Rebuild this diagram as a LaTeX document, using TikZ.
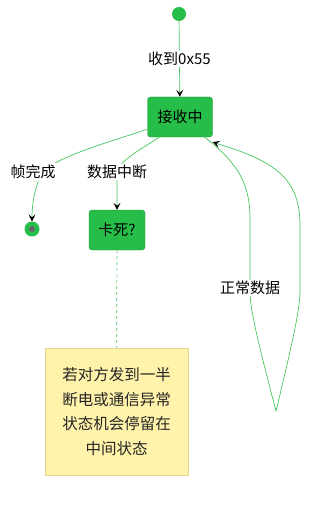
\documentclass[tikz,border=0pt]{standalone}
\usepackage{fontspec}
\setmainfont{Noto Sans CJK SC}
\usetikzlibrary{arrows.meta}
\definecolor{stgreen}{RGB}{38,189,72}
\definecolor{stborder}{RGB}{42,150,62}
\definecolor{lnkgreen}{RGB}{70,198,92}
\definecolor{notefill}{RGB}{255,242,170}
\definecolor{noteline}{RGB}{228,214,140}
\begin{document}
\begin{tikzpicture}[x=1pt, y=-1pt,
    snode/.style={rectangle, rounded corners=3pt, draw=stborder, fill=stgreen, minimum height=40pt, font=\fontsize{15}{17}\selectfont},
    edge/.style={draw=lnkgreen, line width=0.7pt, -{Stealth[black, length=7pt, width=7pt, inset=3pt]}},
    lbl/.style={fill=white, inner sep=1.5pt, font=\fontsize{15}{17}\selectfont},
]
\useasboundingbox (0,0) rectangle (310,508);
\node[circle, fill=stgreen, minimum size=14pt, inner sep=0pt] (start) at (179,14) {};
\node[snode, minimum width=65pt] (recv) at (180,117) {接收中};
\node[snode, minimum width=56pt] (stuck) at (117,230) {卡死?};
\node[circle, fill=stgreen, minimum size=15pt, inner sep=0pt] (done) at (32,229) {};
\node[circle, fill=black!60, minimum size=6pt, inner sep=0pt] at (done) {};
\node[draw=noteline, fill=notefill, minimum width=143pt, minimum height=127pt, align=center,
      font=\fontsize{15.5}{24.5}\selectfont, text=black!85] (note) at (116.5,411.5)
      {若对方发到一半\\断电或通信异常\\状态机会停留在\\中间状态};
\draw[edge] (start) -- (recv) node[lbl, pos=0.5] {收到0x55};
\draw[edge] (recv.south west) ++(0,-8) .. controls (100,145) and (60,156) .. (42,172)
    node[lbl, xshift=-9pt] {帧完成} .. controls (34,190) and (32,205) .. (done.north);
\draw[edge] ([xshift=12pt]recv.south west) .. controls (140,150) and (120,160) .. (117,172)
    node[lbl] {数据中断} -- (stuck.north);
\draw[draw=lnkgreen, line width=0.7pt, dashed] (stuck) -- (note);
\draw[edge] ([xshift=-8pt]recv.south east) .. controls (240,165) and (250,185) .. (250,220)
    -- (250,288) node[lbl] {正常数据} .. controls (250,305) and (252,320) .. (276,411)
    .. controls (298,320) and (300,305) .. (300,288) -- (300,225)
    .. controls (300,175) and (270,160) .. ([yshift=-5pt]recv.south east);
\end{tikzpicture}
\end{document}
